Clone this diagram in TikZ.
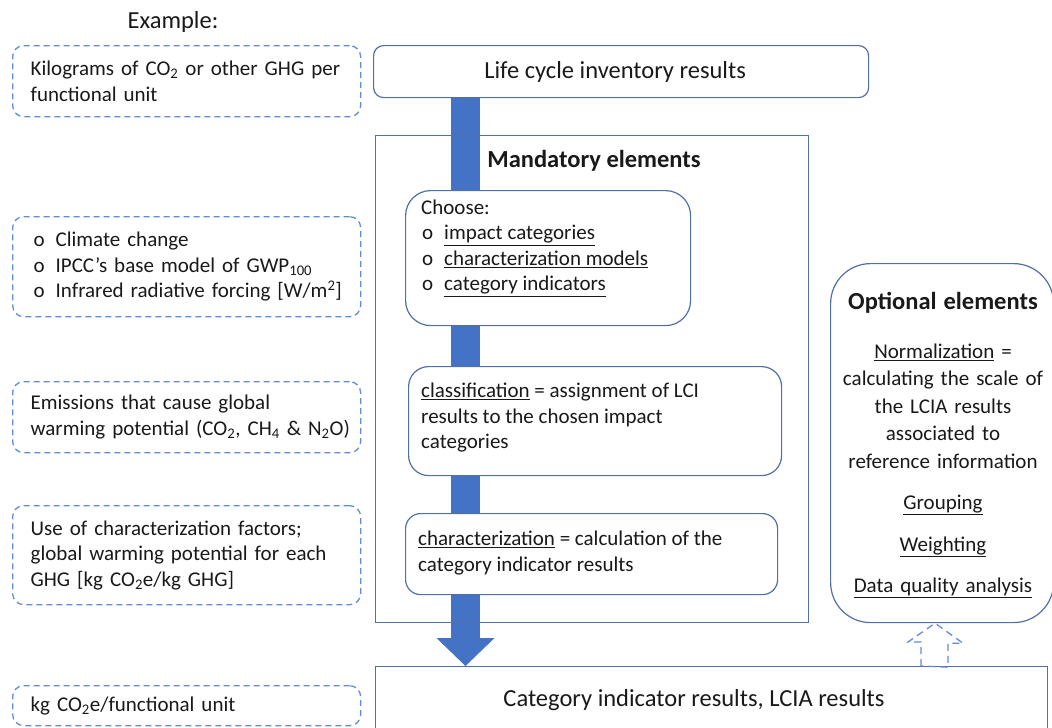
\documentclass[tikz,border=0pt]{standalone}
\usepackage{fontspec}
\setmainfont{Carlito}
\usetikzlibrary{arrows.meta,calc}
\pgfdeclarelayer{background}
\pgfsetlayers{background,main}
\definecolor{framec}{RGB}{82,112,168}
\definecolor{dashc}{RGB}{96,140,214}
\definecolor{flowc}{RGB}{68,114,196}
\definecolor{ink}{RGB}{25,25,25}
% hollow list bullet with its own indent
\newcommand\circitem[1]{\hspace*{#1}\makebox[22pt][l]{o}}
\begin{document}
\begin{tikzpicture}[x=1pt,y=-1pt,
  body/.style={font=\fontsize{21}{25.5}\selectfont,text=ink},
  big/.style={font=\fontsize{24.5}{29}\selectfont,text=ink},
  heading/.style={font=\fontsize{24.5}{29}\selectfont\bfseries,text=ink},
  sidenote/.style={body,draw=dashc,line width=1.3pt,dash pattern=on 6pt off 4pt,
    rounded corners=11pt,align=left,anchor=north west,text width=312pt,
    inner xsep=18pt,inner ysep=0pt},
  frame/.style={draw=framec,line width=1.2pt,fill=white,anchor=north west,inner sep=0pt},
  plain/.style={body,align=left,inner sep=0pt},
  flow/.style={draw=flowc,line width=29pt,-{Triangle[width=58pt,length=28pt,line width=0pt]}},
  hollow/.style={draw=dashc,line width=1.3pt,dash pattern=on 7pt off 5pt,line join=miter}
]
\useasboundingbox (0,0) rectangle (1052,728);
\clip (0,0) rectangle (1052,728);

% left column: worked example
\node[big] (example) at (173,22) {Example:};
\node[sidenote,minimum height=71pt] (n1) at (12,45)
  {Kilograms of CO\textsubscript{2} or other GHG per\\functional unit};
\node[sidenote,minimum height=100pt] (n2) at (12,216)
  {\circitem{3pt}Climate change\\
   \circitem{3pt}IPCC’s base model of GWP\textsubscript{100}\\
   \circitem{3pt}Infrared radiative forcing [W/m\textsuperscript{2}]};
\node[sidenote,minimum height=71pt] (n3) at (12,381)
  {Emissions that cause global\\\mbox{warming potential (CO\textsubscript{2}, CH\textsubscript{4} \& N\textsubscript{2}O)}};
\node[sidenote,minimum height=99pt] (n4) at (12,505)
  {Use of characterization factors;\\global warming potential for each\\GHG [kg CO\textsubscript{2}e/kg GHG]};
\node[sidenote,minimum height=40pt] (n5) at (12,685)
  {kg CO\textsubscript{2}e/functional unit};

% main column
\node[frame,big,rounded corners=10pt,minimum width=495pt,minimum height=52pt] (lci) at (373,45)
  {\hspace*{-12pt}Life cycle inventory results};
\node[frame,fill=none,minimum width=433pt,minimum height=487pt] (mand) at (375,135) {};
\node[heading] (mtitle) at (594,161) {Mandatory elements};

\node[frame,rounded corners=25pt,minimum width=285pt,minimum height=135pt] (choose) at (405,190) {};
\node[plain,anchor=west] (choosetxt) at (421,248)
  {Choose:\\
   \circitem{1pt}\underline{impact categories}\\
   \circitem{1pt}\underline{characterization models}\\
   \circitem{1pt}\underline{category indicators}};

\node[frame,rounded corners=20pt,minimum width=373pt,minimum height=109pt] (classif) at (408,366) {};
\node[plain,anchor=west] (classiftxt) at (421,418)
  {\underline{classification} = assignment of LCI\\results to the chosen impact\\categories};

\node[frame,rounded corners=15pt,minimum width=372pt,minimum height=81pt] (charact) at (405,513) {};
\node[plain,anchor=west] (characttxt) at (418,553)
  {\underline{characterization} = calculation of the\\category indicator results};

\node[frame,minimum width=672pt,minimum height=90pt] (res) at (375,666) {};
\node[big] (restxt) at (694,700) {Category indicator results, LCIA results};

% right column: optional elements
\node[frame,rounded corners=40pt,minimum width=223pt,minimum height=359pt] (opt) at (830,263) {};
\node[body,align=center,text width=207pt,inner sep=0pt,font=\fontsize{21}{27.5}\selectfont] (opttxt) at (943,445)
  {{\fontsize{24.5}{29}\selectfont\bfseries Optional elements}\\[21.5pt]
   \underline{Normalization} =\\calculating the scale of\\the LCIA results\\associated to\\reference information\\[14pt]
   \underline{Grouping}\\[14pt]
   \underline{Weighting}\\[14pt]
   \underline{Data quality analysis}};

% flow from the inventory down to the results
\coordinate (barx) at (465.5,0);
\begin{pgfonlayer}{background}
  \draw[flow] (lci.south -| barx) -- (res.north -| barx);
\end{pgfonlayer}

% optional step fed by the results
\coordinate (upx) at (935,0);
\draw[hollow] ($(res.north -| upx)+(-14,0)$) -- ++(0,-24) -- ++(-13,0)
  -- (opt.south -| upx) -- ++(28,20) -- ++(-15,0) -- ++(0,24) -- cycle;
\end{tikzpicture}
\end{document}
